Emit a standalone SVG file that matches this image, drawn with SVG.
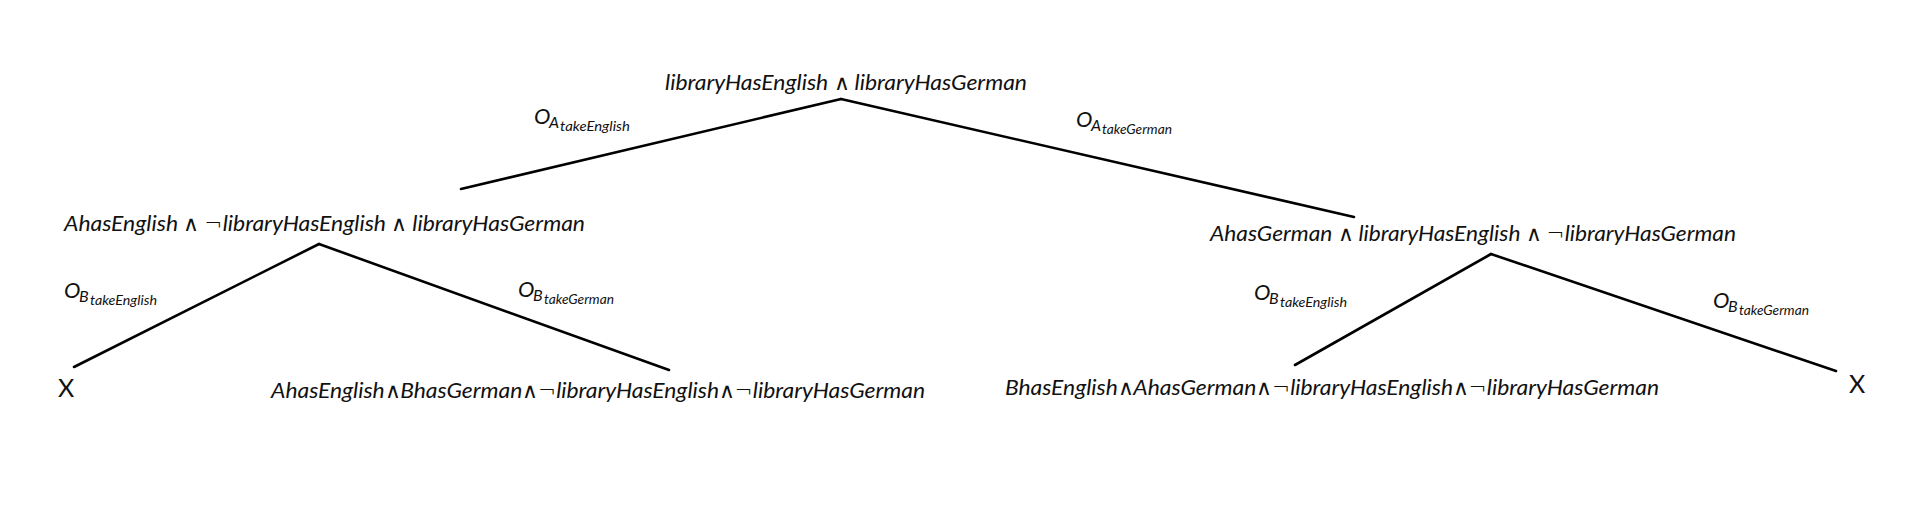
<svg xmlns="http://www.w3.org/2000/svg" width="1926" height="522" viewBox="0 0 1926 522">
<style>
.n{font-family:Lato,"Liberation Sans","DejaVu Sans",sans-serif;font-style:italic;font-size:22px;fill:#111}
.w{font-family:"DejaVu Sans",sans-serif;font-style:normal;font-weight:200;font-size:21px}
.x{font-family:Lato,"Liberation Sans",sans-serif;font-size:25px;fill:#111}
.o{font-family:Lato,"Liberation Sans",sans-serif;font-style:italic;font-size:22px;fill:#111}
.s1{font-size:16px}
.s2{font-size:13px}
.e{stroke:#000;stroke-width:2.6;fill:none;stroke-linecap:round}
</style>
<rect width="1926" height="522" fill="#fff"/>
<g id="connectors">
<line class="e" x1="841" y1="99" x2="461" y2="189"/>
<line class="e" x1="841" y1="99" x2="1354" y2="217"/>
<line class="e" x1="319" y1="244" x2="74" y2="367"/>
<line class="e" x1="319" y1="244" x2="669" y2="370"/>
<line class="e" x1="1491" y1="254" x2="1295" y2="365"/>
<line class="e" x1="1491" y1="254" x2="1836" y2="371"/>
</g>
<g id="labels">
<text class="o"><tspan x="534" y="124">O</tspan><tspan class="s1" x="549" y="128">A</tspan><tspan class="s2" x="560" y="131" textLength="70" lengthAdjust="spacingAndGlyphs">takeEnglish</tspan></text>
<text class="o"><tspan x="1076" y="127">O</tspan><tspan class="s1" x="1091" y="131">A</tspan><tspan class="s2" x="1102" y="134" textLength="70" lengthAdjust="spacingAndGlyphs">takeGerman</tspan></text>
<text class="o"><tspan x="64" y="298">O</tspan><tspan class="s1" x="79" y="302">B</tspan><tspan class="s2" x="90" y="305" textLength="67" lengthAdjust="spacingAndGlyphs">takeEnglish</tspan></text>
<text class="o"><tspan x="518" y="297">O</tspan><tspan class="s1" x="533" y="301">B</tspan><tspan class="s2" x="544" y="304" textLength="70" lengthAdjust="spacingAndGlyphs">takeGerman</tspan></text>
<text class="o"><tspan x="1254" y="300">O</tspan><tspan class="s1" x="1269" y="304">B</tspan><tspan class="s2" x="1280" y="307" textLength="67" lengthAdjust="spacingAndGlyphs">takeEnglish</tspan></text>
<text class="o"><tspan x="1713" y="308">O</tspan><tspan class="s1" x="1728" y="312">B</tspan><tspan class="s2" x="1739" y="315" textLength="70" lengthAdjust="spacingAndGlyphs">takeGerman</tspan></text>
</g>
<g id="root"><text class="n" x="665" y="90" textLength="362" lengthAdjust="spacingAndGlyphs">libraryHasEnglish <tspan class="w">∧</tspan> libraryHasGerman</text></g>
<g id="nodeLeft"><text class="n" x="64" y="231" textLength="521" lengthAdjust="spacingAndGlyphs">AhasEnglish <tspan class="w">∧</tspan> <tspan class="w">¬</tspan>libraryHasEnglish <tspan class="w">∧</tspan> libraryHasGerman</text></g>
<g id="nodeRight"><text class="n" x="1210" y="241" textLength="526" lengthAdjust="spacingAndGlyphs">AhasGerman <tspan class="w">∧</tspan> libraryHasEnglish <tspan class="w">∧</tspan> <tspan class="w">¬</tspan>libraryHasGerman</text></g>
<g id="leafLL"><text class="x" x="58" y="397">X</text></g>
<g id="leafLR"><text class="n" x="271" y="398" textLength="654" lengthAdjust="spacingAndGlyphs">AhasEnglish<tspan class="w">∧</tspan>BhasGerman<tspan class="w">∧¬</tspan>libraryHasEnglish<tspan class="w">∧¬</tspan>libraryHasGerman</text></g>
<g id="leafRL"><text class="n" x="1005" y="395" textLength="654" lengthAdjust="spacingAndGlyphs">BhasEnglish<tspan class="w">∧</tspan>AhasGerman<tspan class="w">∧¬</tspan>libraryHasEnglish<tspan class="w">∧¬</tspan>libraryHasGerman</text></g>
<g id="leafRR"><text class="x" x="1849" y="393">X</text></g>
</svg>
